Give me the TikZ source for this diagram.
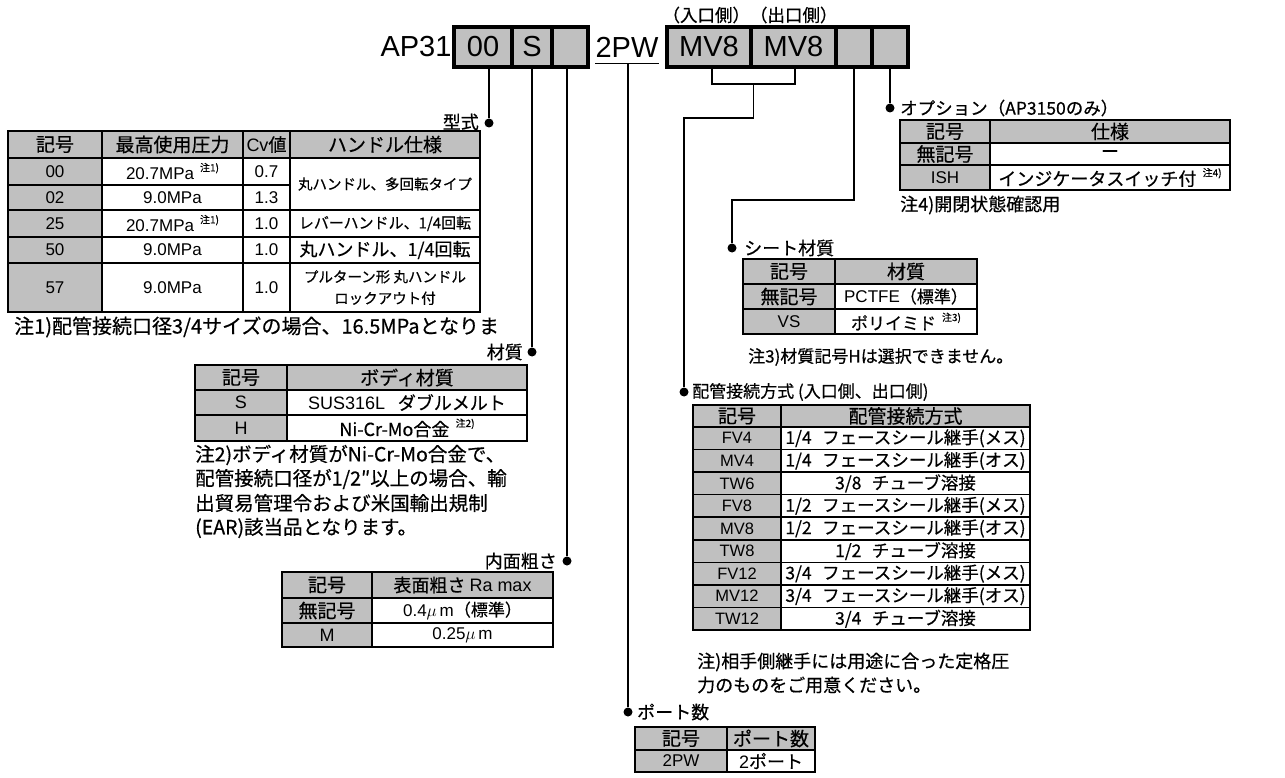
\documentclass[tikz,border=0pt]{standalone}
\usepackage{fontspec}
\setmainfont{Noto Sans CJK JP}[FakeBold=0.5]
\newfontfamily\lat{Liberation Sans}
\definecolor{cg}{RGB}{192,192,192}
\newcommand\fs[1]{\fontsize{#1}{#1}\selectfont}
\newcommand\nt[1]{\hspace{0.35em}\raisebox{0.5em}{\fs{10}#1}}
% name, style, x1, y1, x2, y2, font size, text
\newcommand\cellbox[8]{\node[#2, minimum width={#5-#3}, minimum height={#6-#4}, font=\fs{#7}] (#1) at ({(#3+#5)/2},{(#4+#6)/2}) {#8};}
\tikzset{
  hd/.style={draw, line width=1.5pt, fill=cg, inner sep=0pt, align=center},
  wc/.style={draw, line width=1.5pt, fill=white, inner sep=0pt, align=center},
  frame/.style={draw, line width=2.6pt},
  topbox/.style={draw, line width=3.2pt, fill=cg, inner sep=0pt, minimum height=40, font=\lat\fs{29}},
  conn/.style={line width=1.3pt},
  dotn/.style={circle, fill=black, inner sep=0pt, minimum size=9pt},
  lbl/.style={inner sep=0pt, font=\fs{18}},
  note/.style={inner sep=0pt, anchor=west},
}
\begin{document}
\begin{tikzpicture}[x=1pt,y=-1pt]
\useasboundingbox (0,0) rectangle (1285,778);
\fill[white] (0,0) rectangle (1285,778);

% ---------- top code ----------
\node[inner sep=0pt, font=\lat\fs{29}] (ap) at (416,47) {AP31};
\node[topbox, minimum width=58] (c00) at (483,47) {00};
\node[topbox, minimum width=40] (cS) at (532,47) {S};
\node[topbox, minimum width=36] (cb1) at (570,47) {};
\node[inner sep=0pt, font=\lat\fs{29}] (tw) at (627,47) {2PW};
\coordinate (ul) at ([yshift=-6pt]tw.south);
\draw[conn] ([yshift=-6pt]tw.south west) -- ([yshift=-6pt]tw.south east);
\node[topbox, minimum width=84] (mv1) at (709,47) {MV8};
\node[topbox, minimum width=85] (mv2) at (793.5,47) {MV8};
\node[topbox, minimum width=36] (cb3) at (854,47) {};
\node[topbox, minimum width=36] (cb4) at (890,47) {};
\node[inner sep=0pt, font=\fs{17.5}] (inout) at (750,15) {（入口側）（出口側）};

% ---------- table 1 : 型式 ----------
\node[dotn] (dkata) at (489,123) {};
\node[lbl, anchor=east] (lkata) at (479,122) {型式};
\draw[conn] (dkata) -- (dkata |- c00.south);

\cellbox{t1h0}{hd}{8}{131}{102}{158}{19}{記号}
\cellbox{t1h1}{hd}{102}{131}{243}{158}{19}{最高使用圧力}
\cellbox{t1h2}{hd}{243}{131}{290}{158}{18}{{\lat Cv}値}
\cellbox{t1h3}{hd}{290}{131}{480}{158}{19}{ハンドル仕様}
\cellbox{t1a0}{hd}{8}{158}{102}{185}{17}{\lat 00}
\cellbox{t1a1}{wc}{102}{158}{243}{185}{17}{{\lat 20.7MPa}\nt{注1)}}
\cellbox{t1a2}{wc}{243}{158}{290}{185}{17}{\lat 0.7}
\cellbox{t1a3}{wc}{290}{158}{480}{210}{14.5}{丸ハンドル、多回転タイプ}
\cellbox{t1b0}{hd}{8}{185}{102}{210}{17}{\lat 02}
\cellbox{t1b1}{wc}{102}{185}{243}{210}{17}{\lat 9.0MPa}
\cellbox{t1b2}{wc}{243}{185}{290}{210}{17}{\lat 1.3}
\cellbox{t1c0}{hd}{8}{210}{102}{237}{17}{\lat 25}
\cellbox{t1c1}{wc}{102}{210}{243}{237}{17}{{\lat 20.7MPa}\nt{注1)}}
\cellbox{t1c2}{wc}{243}{210}{290}{237}{17}{\lat 1.0}
\cellbox{t1c3}{wc}{290}{210}{480}{237}{15}{レバーハンドル、1/4回転}
\cellbox{t1d0}{hd}{8}{237}{102}{263}{17}{\lat 50}
\cellbox{t1d1}{wc}{102}{237}{243}{263}{17}{\lat 9.0MPa}
\cellbox{t1d2}{wc}{243}{237}{290}{263}{17}{\lat 1.0}
\cellbox{t1d3}{wc}{290}{237}{480}{263}{18}{丸ハンドル、1/4回転}
\cellbox{t1e0}{hd}{8}{263}{102}{312}{17}{\lat 57}
\cellbox{t1e1}{wc}{102}{263}{243}{312}{17}{\lat 9.0MPa}
\cellbox{t1e2}{wc}{243}{263}{290}{312}{17}{\lat 1.0}
\cellbox{t1e3}{wc}{290}{263}{480}{312}{14.5}{プルターン形 丸ハンドル\\[7pt]ロックアウト付}
\draw[frame] (8,131) rectangle (480,312);
\begin{scope}
\clip (0,314) rectangle (500,345);
\node[note, font=\fs{20}] (n1) at (14,327) {注1)配管接続口径3/4サイズの場合、16.5MPaとなります。};
\end{scope}

% ---------- table 2 : 材質 ----------
\node[dotn] (dzai) at (532,352) {};
\node[lbl, anchor=east] (lzai) at (523,352) {材質};
\draw[conn] (dzai) -- (dzai |- cS.south);
\cellbox{t2h0}{hd}{195}{365}{287}{390}{19}{記号}
\cellbox{t2h1}{hd}{287}{365}{527}{390}{19}{ボディ材質}
\cellbox{t2a0}{hd}{195}{390}{287}{415}{18}{\lat S}
\cellbox{t2a1}{wc}{287}{390}{527}{415}{18}{{\lat SUS316L}\hspace{0.7em}ダブルメルト}
\cellbox{t2b0}{hd}{195}{415}{287}{441}{18}{\lat H}
\cellbox{t2b1}{wc}{287}{415}{527}{441}{18}{Ni-Cr-Mo合金\nt{注2)}}
\draw[frame] (195,365) rectangle (527,441);
\node[note, font=\fs{19.5}] (n2a) at (195,455) {注2)ボディ材質がNi-Cr-Mo合金で、};
\node[note, font=\fs{19.5}] (n2b) at (195,479) {配管接続口径が1/2″以上の場合、輸};
\node[note, font=\fs{19.5}] (n2c) at (195,503) {出貿易管理令および米国輸出規制};
\node[note, font=\fs{19.5}] (n2d) at (195,528) {(EAR)該当品となります。};

% ---------- table 3 : 内面粗さ ----------
\node[dotn] (dnai) at (567,561) {};
\node[lbl, anchor=east] (lnai) at (557,561) {内面粗さ};
\draw[conn] (dnai) -- (dnai |- cb1.south);
\cellbox{t3h0}{hd}{282}{572}{372}{598}{19}{記号}
\cellbox{t3h1}{hd}{372}{572}{553}{598}{18}{表面粗さ {\lat Ra max}}
\cellbox{t3a0}{hd}{282}{598}{372}{623}{19}{無記号}
\cellbox{t3a1}{wc}{372}{598}{553}{623}{17}{{\lat 0.4}$\mu$\,{\lat m}（標準）}
\cellbox{t3b0}{hd}{282}{623}{372}{647}{18}{\lat M}
\cellbox{t3b1}{wc}{372}{623}{553}{647}{17}{{\lat 0.25}$\mu$\,{\lat m}}
\draw[frame] (282,572) rectangle (553,647);

% ---------- option ----------
\node[dotn] (dopt) at (890,108) {};
\node[lbl, anchor=west, font=\fs{17.5}] (lopt) at (900,108) {オプション（AP3150のみ）};
\draw[conn] (dopt) -- (dopt |- cb4.south);
\cellbox{t4h0}{hd}{900}{120}{990}{143}{19}{記号}
\cellbox{t4h1}{hd}{990}{120}{1230}{143}{19}{仕様}
\cellbox{t4a0}{hd}{900}{143}{990}{165}{19}{無記号}
\cellbox{t4a1}{wc}{990}{143}{1230}{165}{18}{ー}
\cellbox{t4b0}{hd}{900}{165}{990}{190}{17}{\lat ISH}
\cellbox{t4b1}{wc}{990}{165}{1230}{190}{18}{インジケータスイッチ付\nt{注4)}}
\draw[frame] (900,120) rectangle (1230,190);
\node[note, font=\fs{18}] (n4) at (900,205) {注4)開閉状態確認用};

% ---------- seat ----------
\node[dotn] (dseat) at (732,248) {};
\node[lbl, anchor=west] (lseat) at (744,248) {シート材質};
\coordinate (sk) at (854,200);
\draw[conn] (cb3.south) -- (sk) -- (sk -| dseat) -- (dseat);
\cellbox{t5h0}{hd}{743}{259}{835}{284}{19}{記号}
\cellbox{t5h1}{hd}{835}{259}{977}{284}{19}{材質}
\cellbox{t5a0}{hd}{743}{284}{835}{309}{19}{無記号}
\cellbox{t5a1}{wc}{835}{284}{977}{309}{17}{{\lat PCTFE}（標準）}
\cellbox{t5b0}{hd}{743}{309}{835}{334}{17}{\lat VS}
\cellbox{t5b1}{wc}{835}{309}{977}{334}{17}{ポリイミド\nt{注3)}}
\draw[frame] (743,259) rectangle (977,334);
\node[note, font=\fs{17}] (n3) at (748,357) {注3)材質記号Hは選択できません。};

% ---------- pipe connection ----------
\node[dotn] (dpipe) at (684,392) {};
\node[lbl, anchor=west, font=\fs{17}] (lpipe) at (692,392) {配管接続方式 (入口側、出口側)};
\coordinate (bl) at (712,84);
\coordinate (br) at (795,84);
\coordinate (bc) at (753.5,84);
\coordinate (bk) at (753.5,118);
\draw[conn] (mv1.south -| bl) -- (bl) -- (br) -- (mv2.south -| br);
\draw[conn] (bc) -- (bk) -- (bk -| dpipe) -- (dpipe);
\cellbox{t6h0}{hd}{693}{405}{781}{427}{19}{記号}
\cellbox{t6h1}{hd}{781}{405}{1030}{427}{19}{配管接続方式}
\foreach \i/\c/\t in {0/FV4/{1/4\hspace{0.6em}フェースシール継手(メス)},
                      1/MV4/{1/4\hspace{0.6em}フェースシール継手(オス)},
                      2/TW6/{3/8\hspace{0.6em}チューブ溶接},
                      3/FV8/{1/2\hspace{0.6em}フェースシール継手(メス)},
                      4/MV8/{1/2\hspace{0.6em}フェースシール継手(オス)},
                      5/TW8/{1/2\hspace{0.6em}チューブ溶接},
                      6/FV12/{3/4\hspace{0.6em}フェースシール継手(メス)},
                      7/MV12/{3/4\hspace{0.6em}フェースシール継手(オス)},
                      8/TW12/{3/4\hspace{0.6em}チューブ溶接}}{
  \pgfmathsetmacro\ya{427+22.56*\i}
  \pgfmathsetmacro\yb{427+22.56*(\i+1)}
  \cellbox{t6c\i}{hd}{693}{\ya}{781}{\yb}{16.5}{\lat \c}
  \cellbox{t6d\i}{wc}{781}{\ya}{1030}{\yb}{17.5}{\t}
}
\draw[frame] (693,405) rectangle (1030,630);
\node[note, font=\fs{18}] (n6a) at (697,662) {注)相手側継手には用途に合った定格圧};
\node[note, font=\fs{18}] (n6b) at (697,685) {力のものをご用意ください。};

% ---------- port ----------
\node[dotn] (dport) at (628,712) {};
\node[lbl, anchor=west] (lport) at (637,712) {ポート数};
\draw[conn] (dport) -- (dport |- ul);
\cellbox{t7h0}{hd}{635}{727}{727}{750}{19}{記号}
\cellbox{t7h1}{hd}{727}{727}{815}{750}{19}{ポート数}
\cellbox{t7a0}{hd}{635}{750}{727}{772}{17}{\lat 2PW}
\cellbox{t7a1}{wc}{727}{750}{815}{772}{18}{{\lat 2}ポート}
\draw[frame] (635,727) rectangle (815,772);
\end{tikzpicture}
\end{document}
